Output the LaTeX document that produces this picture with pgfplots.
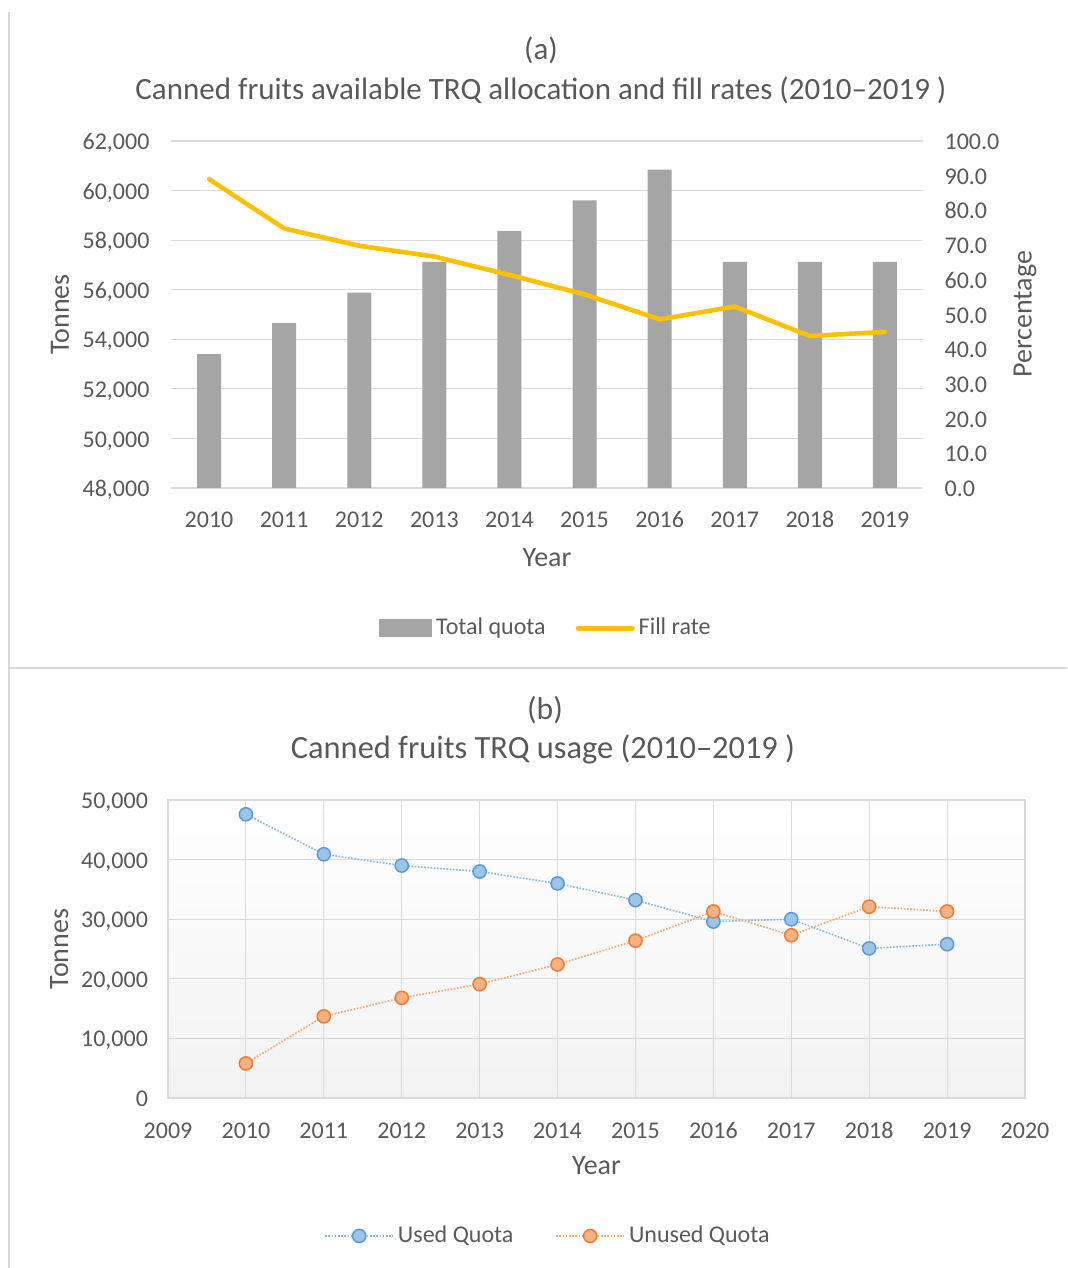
\documentclass[border=0pt]{standalone}
\usepackage{pgfplots}
\pgfplotsset{compat=1.18}
\usepackage{fontspec}
\setmainfont{Carlito}
\definecolor{txt}{HTML}{595959}
\definecolor{gridc}{HTML}{D9D9D9}
\definecolor{barc}{HTML}{A5A5A5}
\definecolor{yel}{HTML}{FFC000}
\definecolor{blueE}{HTML}{5B9BD5}
\definecolor{blueF}{HTML}{9DC3E6}
\definecolor{orE}{HTML}{ED7D31}
\definecolor{orF}{HTML}{F4B183}
\pgfplotsset{
  common/.style={
    scale only axis,
    tick label style={font=\fontsize{12}{14}\selectfont, text=txt},
    label style={font=\fontsize{14}{16}\selectfont, text=txt},
    /pgf/number format/assume math mode=true,
    typeset ticklabels with strut,
    major tick length=0pt,
    minor tick length=0pt,
  },
  mylegimg/.style={legend image code/.code={\draw[mark repeat=2,mark phase=2,##1] plot coordinates {(0pt,0pt) (17pt,0pt) (34pt,0pt)};}},
  barlegimg/.style={legend image code/.code={\fill[barc] (0pt,-4.25pt) rectangle (26pt,4.25pt);}},
  yellegimg/.style={legend image code/.code={\draw[yel, line width=2.5pt, line cap=round] (0pt,0pt) -- (27pt,0pt);}},
}
\begin{document}
\begin{tikzpicture}
\path[use as bounding box, fill=white] (0,0) rectangle (533.5pt,634pt);
\draw[gridc, line width=1pt] (4.5pt,0) -- (4.5pt,628pt);
\draw[gridc, line width=1.25pt] (4.5pt,300pt) -- (533.5pt,300pt);
\node[text=txt, font=\fontsize{15.5}{18}\selectfont] at (270.5pt,609pt) {(a)};
\node[text=txt, font=\fontsize{15.5}{18}\selectfont] at (270.5pt,589pt) {Canned fruits available TRQ allocation and fill rates (2010–2019 )};
\node[text=txt, font=\fontsize{15.8}{18}\selectfont] at (272.5pt,279pt) {(b)};
\node[text=txt, font=\fontsize{16.2}{18}\selectfont] at (271.5pt,259.5pt) {Canned fruits TRQ usage (2010–2019 )};

% ---------- panel (a): bars, left axis
\begin{axis}[common,
  at={(85.75pt,390pt)}, anchor=south west,
  width=375.5pt, height=173.5pt,
  xmin=-0.5, xmax=9.5, ymin=48000, ymax=62000,
  xtick={0,1,2,3,4,5,6,7,8,9},
  xticklabels={2010,2011,2012,2013,2014,2015,2016,2017,2018,2019},
  xticklabel style={yshift=-6.5pt},
  ytick={48000,50000,52000,54000,56000,58000,60000,62000},
  scaled y ticks=false,
  yticklabel style={xshift=-7.5pt, yshift=-1.5pt, /pgf/number format/.cd, fixed, 1000 sep={,}},
  axis line style={draw=none},
  ymajorgrids, grid style={gridc, line width=0.6pt},
  xlabel={Year}, ylabel={Tonnes},
  xlabel style={at={(axis description cs:0.5,-0.2017)}, anchor=center},
  ylabel style={at={(axis description cs:-0.1485,0.5)}, anchor=center},
]
\addplot[ybar, bar width=12pt, fill=barc, draw=none] coordinates {
(0,53400) (1,54650) (2,55880) (3,57120) (4,58370) (5,59600) (6,60840) (7,57120) (8,57120) (9,57120)};
\end{axis}

% ---------- panel (a): fill rate, right axis
\begin{axis}[common,
  at={(85.75pt,390pt)}, anchor=south west,
  width=375.5pt, height=173.5pt,
  xmin=-0.5, xmax=9.5, ymin=0, ymax=100,
  axis x line=none, axis y line*=right,
  axis line style={draw=none},
  ytick={0,10,20,30,40,50,60,70,80,90,100},
  yticklabel style={xshift=7.5pt, yshift=-1.5pt, /pgf/number format/.cd, fixed, fixed zerofill, precision=1},
  ylabel={Percentage},
  ylabel style={at={(axis description cs:1.1365,0.5)}, anchor=center},
  legend style={at={(axis description cs:0.5,-0.4035)}, anchor=center, draw=none, fill=none,
    font=\fontsize{12}{14}\selectfont, text=txt,
    /tikz/every even column/.append style={column sep=13pt}},
  legend columns=-1,
]
\addlegendimage{barlegimg}
\addlegendentry{Total quota}
\addplot[yel, line width=2.3pt, line join=round, line cap=round, yellegimg]
coordinates {(0,89.0) (1,74.8) (2,69.8) (3,66.7) (4,61.4) (5,55.8) (6,48.6) (7,52.3) (8,43.8) (9,45.0)};
\addlegendentry{Fill rate}
\end{axis}

% ---------- panel (b)
\begin{axis}[common,
  at={(84pt,85pt)}, anchor=south west,
  width=428.5pt, height=149pt,
  xmin=2009, xmax=2020, ymin=0, ymax=50000,
  xtick={2009,2010,2011,2012,2013,2014,2015,2016,2017,2018,2019,2020},
  ytick={0,10000,20000,30000,40000,50000},
  scaled x ticks=false, scaled y ticks=false,
  xticklabel style={yshift=-7pt, /pgf/number format/.cd, 1000 sep={}},
  yticklabel style={xshift=-6.5pt, yshift=-1.5pt, /pgf/number format/.cd, fixed, 1000 sep={,}},
  grid=major, grid style={gridc, line width=0.5pt},
  axis line style={gridc, line width=0.8pt},
  axis background/.style={top color=white, bottom color=black!5},
  xlabel={Year}, ylabel={Tonnes},
  xlabel style={at={(axis description cs:0.5,-0.228)}, anchor=center},
  ylabel style={at={(axis description cs:-0.127,0.5)}, anchor=center},
  legend style={at={(axis description cs:0.4446,-0.463)}, anchor=center, draw=none, fill=none,
    font=\fontsize{12}{14}\selectfont, text=txt,
    /tikz/every even column/.append style={column sep=19pt}},
  legend columns=-1,
]
\addplot[blueE!75!white, line width=0.8pt, dash pattern=on 0.8pt off 0.8pt,
  mark=*, mark size=3.3pt, mark options={solid, fill=blueF, draw=blueE, line width=0.75pt}, mylegimg]
coordinates {(2010,47600) (2011,40900) (2012,39000) (2013,38000) (2014,36000) (2015,33200) (2016,29600) (2017,30000) (2018,25100) (2019,25800)};
\addlegendentry{Used Quota}
\addplot[orE!70!white, line width=0.8pt, dash pattern=on 0.8pt off 0.8pt,
  mark=*, mark size=3.3pt, mark options={solid, fill=orF, draw=orE, line width=0.75pt}, mylegimg]
coordinates {(2010,5800) (2011,13700) (2012,16800) (2013,19100) (2014,22400) (2015,26400) (2016,31300) (2017,27300) (2018,32100) (2019,31300)};
\addlegendentry{Unused Quota}
\end{axis}
\end{tikzpicture}
\end{document}
